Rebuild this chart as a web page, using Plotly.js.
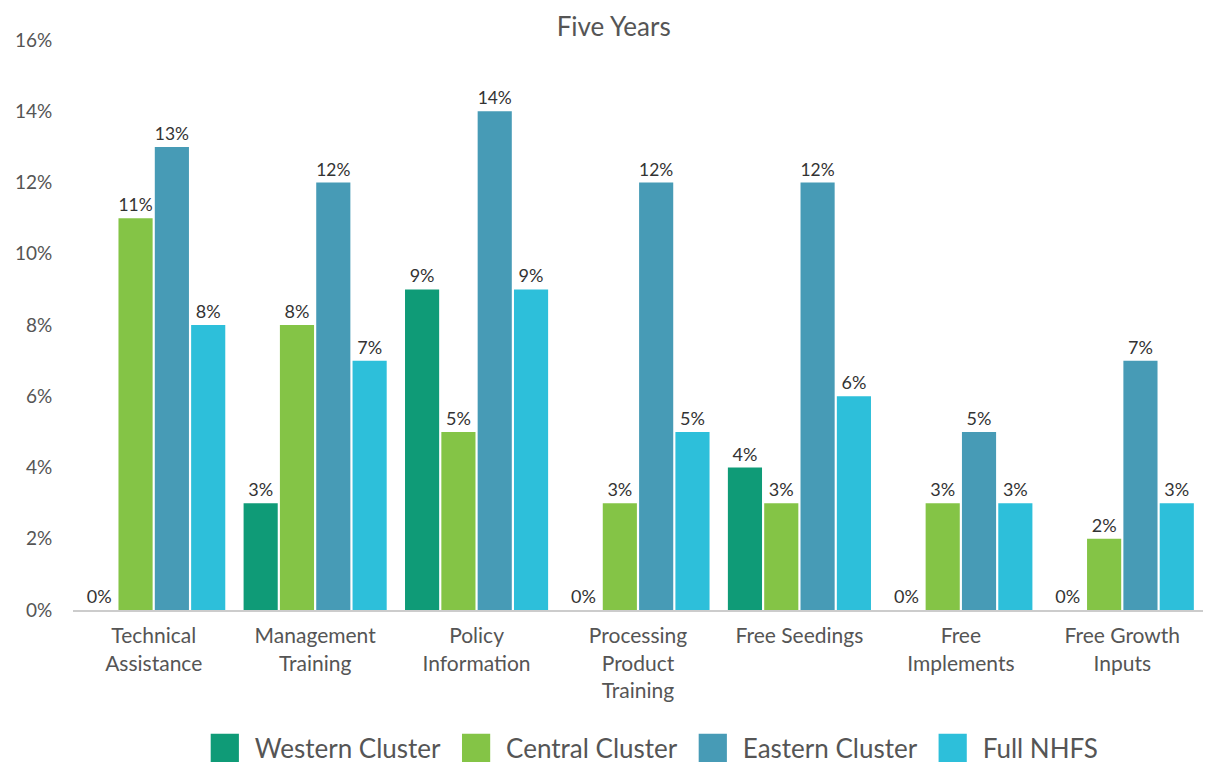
<!DOCTYPE html>
<html>
<head>
<meta charset="utf-8">
<script src="https://cdn.plot.ly/plotly-3.0.1.min.js"></script>
<style>html,body{margin:0;padding:0;background:#fff;}#chart{width:1208px;height:767px;}</style>
</head>
<body>
<div id="chart"></div>
<script>
const categories = ["Technical<br>Assistance", "Management<br>Training", "Policy<br>Information", "Processing<br>Product<br>Training", "Free Seedings", "Free<br>Implements", "Free Growth<br>Inputs"];
const seriesNames = ["Western Cluster", "Central Cluster", "Eastern Cluster", "Full NHFS"];
const western = [0, 3, 9, 0, 4, 0, 0];
const central = [11, 8, 5, 3, 3, 3, 2];
const eastern = [13, 12, 14, 12, 12, 5, 7];
const fullNhfs = [8, 7, 9, 5, 6, 3, 3];
const yTicks = [0, 2, 4, 6, 8, 10, 12, 14, 16];
const colors = ["#0f9b77", "#84c446", "#479bb6", "#2dbfda"];

const seriesValues = [western, central, eastern, fullNhfs];
const font = "Lato, 'Noto Sans', sans-serif";
const traces = seriesValues.map((vals, i) => ({
  type: "bar",
  name: seriesNames[i],
  x: categories,
  y: vals,
  marker: {color: colors[i]},
  text: vals.map(v => v + "%"),
  textposition: "outside",
  textfont: {family: font, size: 18, color: "#333"},
  cliponaxis: false,
  hoverinfo: "x+y+name"
}));

const layout = {
  width: 1208, height: 767,
  margin: {l: 73, r: 5, t: 40, b: 157, autoexpand: false},
  paper_bgcolor: "#fff", plot_bgcolor: "#fff",
  title: {text: "Five Years", font: {family: font, size: 26, color: "#555"}, x: 0.508, xref: "container", y: 0.965, yref: "container", yanchor: "middle"},
  barmode: "group",
  bargap: 0.1,
  bargroupgap: 0.06,
  xaxis: {
    tickfont: {family: font, size: 21, color: "#555"},
    showline: true, linecolor: "#ccc", linewidth: 2,
    showgrid: false, zeroline: false, automargin: false,
    ticks: "outside", ticklen: 6, tickcolor: "rgba(0,0,0,0)"
  },
  yaxis: {
    range: [0, 16],
    tickvals: yTicks,
    ticktext: yTicks.map(v => v + "%"),
    tickfont: {family: font, size: 19, color: "#555"},
    showgrid: false, zeroline: false, showline: false, automargin: false,
    ticks: "outside", ticklen: 16, tickcolor: "rgba(0,0,0,0)"
  },
  showlegend: true,
  legend: {
    orientation: "h", x: 0.51, xanchor: "center", y: -0.242, yanchor: "middle",
    font: {family: font, size: 26, color: "#555"},
    itemwidth: 50
  }
};

Plotly.newPlot("chart", traces, layout, {displayModeBar: false, staticPlot: true}).then(gd => {
  gd.querySelectorAll(".legendpoints path").forEach(p => {
    const t = p.getAttribute("transform") || "";
    p.setAttribute("transform", t + " scale(2.35)");
  });
});
</script>
</body>
</html>
